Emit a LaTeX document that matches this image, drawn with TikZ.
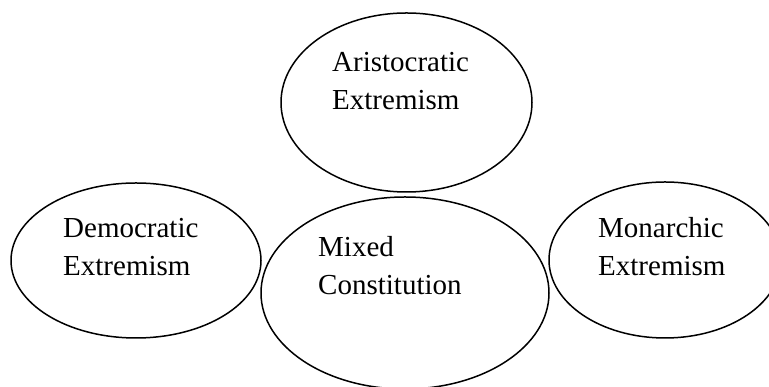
\documentclass[tikz,border=0pt]{standalone}
\usepackage{fontspec}
\setmainfont{Liberation Serif}
\usetikzlibrary{shapes.geometric}

\tikzset{
  blob/.style={draw, ellipse, inner sep=0pt, line width=1.5pt},
  lbl/.style={anchor=base west, align=left, inner sep=0pt,
    font=\fontsize{29}{38}\selectfont}
}

\begin{document}
\begin{tikzpicture}[x=1pt, y=1pt, line join=round, line cap=round]
      \useasboundingbox (0,0) rectangle (769,387);

      \node[blob, minimum width=251pt, minimum height=179pt] (aris) at (406.5,284.5) {};
      \node[blob, minimum width=250pt, minimum height=155pt] (demo) at (136,126.5) {};
      \node[blob, minimum width=288pt, minimum height=192pt] (mixed) at (405,94) {};
      \node[blob, minimum width=232pt, minimum height=156pt] (mon) at (665,127) {};

      % anchor sits on the second line
      \node[lbl] (aris-t) at (332,277) {Aristocratic\\Extremism};
      \node[lbl] (demo-t) at (63,111) {Democratic\\Extremism};
      \node[lbl] (mixed-t) at (318,92) {Mixed\\Constitution};
      \node[lbl] (mon-t) at (598,111) {Monarchic\\Extremism};
    \end{tikzpicture}
\end{document}
